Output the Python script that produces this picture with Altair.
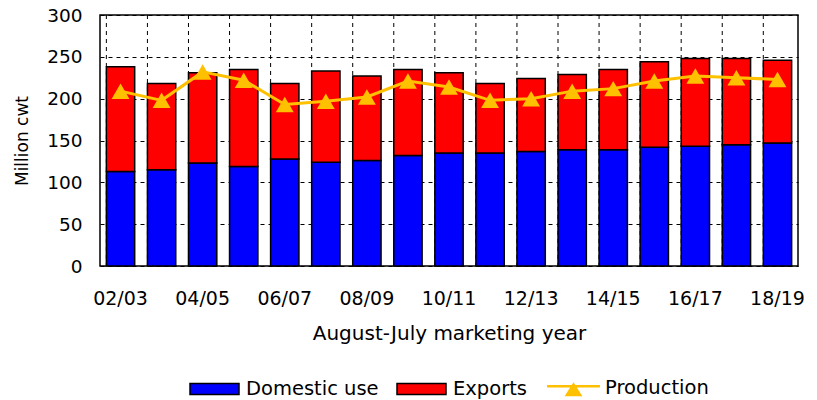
import altair as alt
import pandas as pd

years = ["02/03", "03/04", "04/05", "05/06", "06/07", "07/08", "08/09", "09/10", "10/11",
         "11/12", "12/13", "13/14", "14/15", "15/16", "16/17", "17/18", "18/19"]
domestic = [113, 115, 123, 119, 128, 124, 126, 132, 135, 135, 137, 139, 139, 142, 143, 145, 147]
exports = [125, 103, 108, 116, 90, 109, 101, 103, 96, 83, 87, 90, 96, 102, 105, 103, 99]
production = [209, 198, 232, 222, 193, 197, 202, 221, 214, 198, 200, 209, 212, 221, 227, 225, 223]
label_years = years[::2]
series = ["Domestic use", "Exports", "Production"]
colors = ["#0000FF", "#FF0000", "#FFC000"]
y_ticks = [0, 50, 100, 150, 200, 250, 300]

FONT = "DejaVu Sans"
GOLD = "#FFC000"

rows = []
for i, yr in enumerate(years):
    rows.append({"year": yr, "series": "Domestic use", "value": domestic[i], "order": 0})
    rows.append({"year": yr, "series": "Exports", "value": exports[i], "order": 1})
bar_df = pd.DataFrame(rows)
prod_df = pd.DataFrame({"year": years, "value": production})
grid_df = pd.DataFrame({"year": years})

label_list = "[" + ",".join("'" + s + "'" for s in label_years) + "]"
label_expr = "indexof(" + label_list + ", datum.value) >= 0 ? datum.value : ''"

RECT = "M-1,-0.22H1V0.22H-1Z"
PROD = "M-1.08,-0.05H1.08M-0.27,0.3L0,-0.12L0.27,0.3Z"
is_prod = "datum.value === 'Production'"

legend = alt.Legend(
    orient="none", legendX=89, legendY=347, direction="horizontal", title=None,
    symbolType={"expr": "(" + is_prod + " ? '" + PROD + "' : '" + RECT + "')"},
    symbolStrokeColor={"expr": "(" + is_prod + " ? '" + GOLD + "' : 'black')"},
    symbolStrokeWidth={"expr": "(" + is_prod + " ? 2.5 : 1.5)"},
    symbolSize=2401, symbolOpacity=1,
    labelFont=FONT, labelFontSize=19.5,
    labelColor="black", labelOffset=6, columnPadding=15, labelLimit=0, padding=0,
)

x_scale = alt.Scale(paddingInner=0.31, paddingOuter=0.155)
x_axis = alt.Axis(
    title="August-July marketing year", labelAngle=0, labelExpr=label_expr,
    grid=False, ticks=False, domain=False, labelPadding=23, titlePadding=15,
    labelFontSize=19, titleFontSize=20, titleFontWeight="normal", labelOverlap=False,
)
y_scale = alt.Scale(domain=[0, 300], nice=False)
y_axis = alt.Axis(
    values=y_ticks, grid=True, gridDash=[4, 4], gridColor="black", gridWidth=1,
    gridOpacity=1, ticks=False, domain=False, labelPadding=18, labelFontSize=18.5,
    title="Million cwt", titleFontSize=17, titleFontWeight="normal", titlePadding=15,
)

grid_rules = alt.Chart(grid_df).mark_rule(
    color="black", strokeDash=[4, 4], strokeWidth=1
).encode(
    x=alt.X("year:N", sort=years, bandPosition=0, scale=x_scale, axis=x_axis),
)

bars = alt.Chart(bar_df).mark_bar(stroke="black", strokeWidth=1.5).encode(
    x=alt.X("year:N", sort=years, scale=x_scale, axis=x_axis),
    y=alt.Y("value:Q", stack="zero", scale=y_scale, axis=y_axis),
    color=alt.Color("series:N", scale=alt.Scale(domain=series, range=colors), legend=legend),
    order=alt.Order("order:Q"),
)

line = alt.Chart(prod_df).mark_line(color=GOLD, strokeWidth=3).encode(
    x=alt.X("year:N", sort=years),
    y=alt.Y("value:Q"),
)

points = alt.Chart(prod_df).mark_point(
    shape="triangle-up", filled=True, size=320, color=GOLD, opacity=1
).encode(
    x=alt.X("year:N", sort=years),
    y=alt.Y("value:Q"),
)

chart = alt.layer(grid_rules, bars, line, points).properties(
    width=698, height=251,
    autosize=alt.AutoSizeParams(type="none"),
    padding={"left": 92, "top": 7, "right": 11, "bottom": 134},
).configure_view(
    stroke="black", strokeWidth=1.5
).configure_axis(
    labelFont=FONT, titleFont=FONT, labelColor="black", titleColor="black"
)

chart.save("out.html", embed_options={"renderer": "svg", "actions": False})
